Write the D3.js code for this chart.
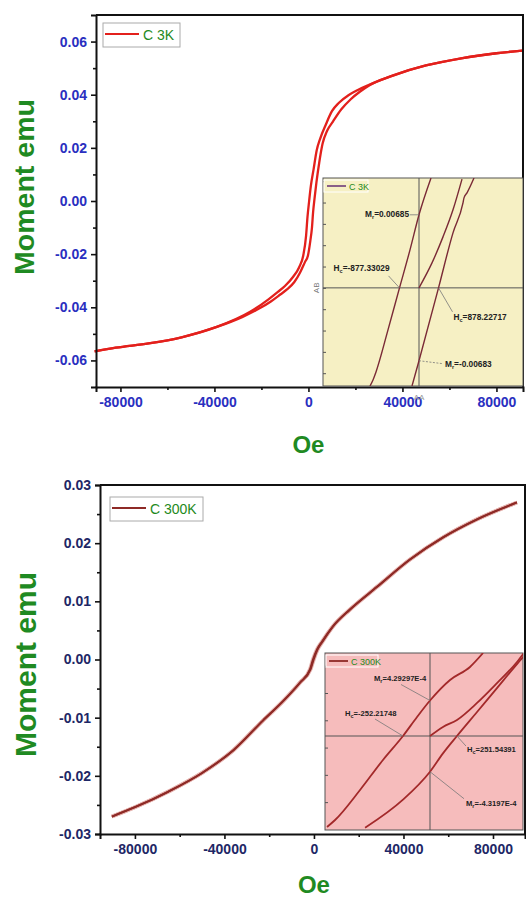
<!DOCTYPE html>
<html>
<head>
<meta charset="utf-8">
<script src="https://cdn.jsdelivr.net/npm/d3@7/dist/d3.min.js"></script>
<style>
  body { margin: 0; background: #fff; }
  svg { display: block; }
  text { font-family: "Liberation Sans", Arial, sans-serif; }
</style>
</head>
<body>
<svg id="chart" width="526" height="897"></svg>
<script>
// ---------- C 3K : M(H) loop, full field range ----------
const fieldDesc3K  = [91000, 80000, 65000, 50000, 36000, 26000, 21000, 17000, 13000, 10000, 7500, 5000, 3500, 2200, 1000, 300, -400, -1000, -2200, -4000, -6500, -10000, -13000, -17000, -25000, -39000, -54000, -68000, -82000, -91000];
const momentDesc3K = [0.0566, 0.0556, 0.0537, 0.0510, 0.0473, 0.0438, 0.0418, 0.0398, 0.0370, 0.0338, 0.0290, 0.0235, 0.0190, 0.0120, 0.0055, 0.0000, -0.0060, -0.0130, -0.0205, -0.0250, -0.0285, -0.0320, -0.0342, -0.0370, -0.0418, -0.0474, -0.0513, -0.0536, -0.0552, -0.0566];
const fieldAsc3K   = [-91000, -82000, -68000, -54000, -39000, -28000, -21000, -16000, -12000, -9000, -6000, -3600, -1500, -200, 800, 1500, 2000, 2600, 3400, 4600, 6000, 8000, 10500, 14000, 18000, 22000, 26000, 36000, 50000, 65000, 80000, 91000];
const momentAsc3K  = [-0.0566, -0.0552, -0.0536, -0.0513, -0.0474, -0.0436, -0.0405, -0.0378, -0.0352, -0.0332, -0.0305, -0.0270, -0.0230, -0.0205, -0.0150, -0.0100, -0.0040, 0.0010, 0.0070, 0.0145, 0.0215, 0.0265, 0.0300, 0.0345, 0.0383, 0.0412, 0.0436, 0.0472, 0.0510, 0.0537, 0.0556, 0.0566];

// ---------- C 3K : low-field detail ----------
const insetFieldDesc3K   = [-2205, -2070, -1935, -1395, -877.33029, -405, 0, 540];
const insetMomentDesc3K  = [-0.0092, -0.00863, -0.00788, -0.00394, 0, 0.00356, 0.00685, 0.0103];
const insetFieldAsc3K    = [-315, 0, 878.22717, 1530, 1980, 2025, 2160, 2475];
const insetMomentAsc3K   = [-0.0092, -0.00683, 0, 0.00516, 0.00797, 0.00844, 0.00891, 0.0103];
const insetFieldVirgin3K  = [0, 585, 1080, 1530, 1935];
const insetMomentVirgin3K = [0, 0.00234, 0.00478, 0.00732, 0.0102];
const coercive3K  = [-877.33029, 878.22717];
const remanent3K  = [0.00685, -0.00683];

// ---------- C 300K : M(H) loop, full field range ----------
const fieldDesc300K  = [90700, 72900, 57700, 42900, 28200, 16100, 8500, 3600, 1300, -450, -1800, -6300, -13900, -22800, -36000, -50000, -65000, -80000, -90300];
const momentDesc300K = [0.0270, 0.0241, 0.0210, 0.0172, 0.0125, 0.0086, 0.0057, 0.0031, 0.0017, 0.0000, -0.0017, -0.0040, -0.0072, -0.0105, -0.0156, -0.0195, -0.0227, -0.0254, -0.0270];
const fieldAsc300K   = [-90300, -80000, -65000, -50000, -36000, -22800, -13900, -6300, -1500, -100, 1600, 3900, 8500, 16100, 28200, 42900, 57700, 72900, 90700];
const momentAsc300K  = [-0.0270, -0.0254, -0.0227, -0.0195, -0.0156, -0.0105, -0.0072, -0.0040, -0.0017, 0.0000, 0.0017, 0.0031, 0.0057, 0.0086, 0.0125, 0.0172, 0.0210, 0.0241, 0.0270];

// ---------- C 300K : low-field detail ----------
const insetFieldDesc300K    = [-961, -886, -653, -439, -252.21748, -121, 0, 187, 373, 495];
const insetMomentDesc300K   = [-0.0011, -0.001016, -0.000653, -0.00029, 0, 0.00023, 0.000429297, 0.000678, 0.000835, 0.001004];
const insetFieldAsc300K     = [-606, -252, 0, 121, 251.54391, 439, 625, 812, 880];
const insetMomentAsc300K    = [-0.00111, -0.00077, -0.00043197, -0.00021, 0, 0.00029, 0.00058, 0.00087, 0.00097];
const insetFieldVirgin300K  = [0, 121, 252, 439, 625, 812, 880];
const insetMomentVirgin300K = [0, 0.00011, 0.000194, 0.0004, 0.00064, 0.000895, 0.00101];
const coercive300K = [-252.21748, 251.54391];
const remanent300K = [0.000429297, -0.00043197];

// ---------- ticks and labels ----------
const xTicks = [-80000, -40000, 0, 40000, 80000];
const xMinorTicks = [-60000, -20000, 20000, 60000];
const yTicks3K = [-0.06, -0.04, -0.02, 0.00, 0.02, 0.04, 0.06];
const yMinorTicks3K = [-0.05, -0.03, -0.01, 0.01, 0.03, 0.05];
const yTicks300K = [-0.03, -0.02, -0.01, 0.00, 0.01, 0.02, 0.03];
const yMinorTicks300K = [-0.025, -0.015, -0.005, 0.005, 0.015, 0.025];
const seriesNames = ["C 3K", "C 300K"];
const yTitle = "Moment emu";
const xTitle = "Oe";

const svg = d3.select("#chart");
const green = "#1f8a22";

// pairs sorted by field so a monotone-in-x curve can be used
const zip = (xs, ys) => xs.map((x, i) => [x, ys[i]]).sort((a, b) => a[0] - b[0]);
const fmtY = d => d.toFixed(2);
const fmtX = d => String(d);

function mainPanel(o) {
  const g = svg.append("g");
  const x = d3.scaleLinear().domain(o.xDomain).range([o.left, o.right]);
  const y = d3.scaleLinear().domain(o.yDomain).range([o.bottom, o.top]);

  const line = d3.line().x(d => x(d[0])).y(d => y(d[1])).curve(d3.curveMonotoneX);
  o.branches.forEach(b => {
    if (o.halo) {
      g.append("path").attr("d", line(b)).attr("fill", "none")
        .attr("stroke", o.halo).attr("stroke-width", o.width + 2).attr("stroke-linejoin", "round");
    }
  });
  o.branches.forEach(b => {
    g.append("path").attr("d", line(b)).attr("fill", "none")
      .attr("stroke", o.color).attr("stroke-width", o.width).attr("stroke-linejoin", "round");
  });

  // frame
  g.append("path").attr("d", `M${o.left},${o.top}H${o.right}V${o.bottom}`)
    .attr("fill", "none").attr("stroke", "#111").attr("stroke-width", 2);

  // axes
  const ax = g.append("g").attr("transform", `translate(0,${o.bottom})`)
    .call(d3.axisBottom(x).tickValues(xTicks).tickFormat(fmtX).tickSize(5).tickPadding(5));
  g.append("g").attr("transform", `translate(0,${o.bottom})`)
    .call(d3.axisBottom(x).tickValues(xMinorTicks).tickFormat("").tickSize(3))
    .call(s => s.select(".domain").remove());
  const ay = g.append("g").attr("transform", `translate(${o.left},0)`)
    .call(d3.axisLeft(y).tickValues(o.yTicks).tickFormat(fmtY).tickSize(5).tickPadding(4));
  g.append("g").attr("transform", `translate(${o.left},0)`)
    .call(d3.axisLeft(y).tickValues(o.yMinor).tickFormat("").tickSize(3))
    .call(s => s.select(".domain").remove());
  g.selectAll(".domain").attr("stroke", "#111").attr("stroke-width", 2);
  g.selectAll(".tick line").attr("stroke", "#111").attr("stroke-width", 1.6);
  [ax, ay].forEach(a => a.selectAll("text")
    .attr("fill", o.tickColor).attr("font-size", 14).attr("font-weight", "bold")
    .attr("font-family", "'Liberation Sans', Arial, sans-serif"));

  // titles
  g.append("text").attr("transform", `translate(${o.yTitleX},${(o.top + o.bottom) / 2 + o.yTitleShift}) rotate(-90)`)
    .attr("text-anchor", "middle").attr("font-size", o.yTitleSize).attr("font-weight", "bold")
    .attr("fill", green).text(yTitle);
  g.append("text").attr("x", x(0)).attr("y", o.xTitleY).attr("text-anchor", "middle")
    .attr("font-size", 24).attr("font-weight", "bold").attr("fill", green).text(xTitle);

  // legend
  const lg = g.append("g").attr("transform", `translate(${o.legend[0]},${o.legend[1]})`);
  lg.append("rect").attr("width", o.legend[2]).attr("height", 24).attr("fill", "#fff")
    .attr("stroke", "#aaa").attr("stroke-width", 1);
  lg.append("line").attr("x1", 2).attr("x2", 36).attr("y1", 11).attr("y2", 11)
    .attr("stroke", o.color).attr("stroke-width", 2);
  lg.append("text").attr("x", 40).attr("y", 17).attr("font-size", 14).attr("fill", green).text(o.name);
  return { g, x, y };
}

function insetPanel(o) {
  const g = svg.append("g");
  const x = d3.scaleLinear().domain(o.xDomain).range([o.left, o.right]);
  const y = d3.scaleLinear().domain(o.yDomain).range([o.bottom, o.top]);
  const clipId = "clip" + o.id;
  g.append("clipPath").attr("id", clipId).append("rect")
    .attr("x", o.left).attr("y", o.top).attr("width", o.right - o.left).attr("height", o.bottom - o.top);
  g.append("rect").attr("x", o.left).attr("y", o.top).attr("width", o.right - o.left)
    .attr("height", o.bottom - o.top).attr("fill", o.bg).attr("stroke", "#555").attr("stroke-width", 1);

  // small ticks along the left edge
  g.append("g").attr("transform", `translate(${o.left},0)`)
    .call(d3.axisRight(y).tickValues(d3.range(o.yTickStart, o.yDomain[1], o.yTickStep)).tickFormat("").tickSize(3))
    .call(s => s.select(".domain").remove())
    .selectAll("line").attr("stroke", "#555");

  // cross-hair through the origin
  g.append("line").attr("x1", x(0)).attr("x2", x(0)).attr("y1", o.top).attr("y2", o.bottom)
    .attr("stroke", "#555").attr("stroke-width", 1);
  g.append("line").attr("x1", o.left).attr("x2", o.right).attr("y1", y(0)).attr("y2", y(0))
    .attr("stroke", "#555").attr("stroke-width", 1);

  const line = d3.line().x(d => x(d[0])).y(d => y(d[1])).curve(d3.curveMonotoneX);
  const cg = g.append("g").attr("clip-path", `url(#${clipId})`);
  o.branches.forEach(b => cg.append("path").attr("d", line(b)).attr("fill", "none")
    .attr("stroke", o.color).attr("stroke-width", o.width));

  // legend
  const lg = g.append("g").attr("transform", `translate(${o.left + 1},${o.top + 2})`);
  lg.append("rect").attr("width", o.legendW).attr("height", 12).attr("fill", o.legendBg)
    .attr("stroke", "#fff").attr("stroke-width", 1);
  lg.append("line").attr("x1", 3).attr("x2", 22).attr("y1", 6).attr("y2", 6)
    .attr("stroke", o.legendLine).attr("stroke-width", 1.8);
  lg.append("text").attr("x", 25).attr("y", 9.5).attr("font-size", 9).attr("fill", green).text(o.name);

  // annotations: label + leader to the point it describes
  o.notes.forEach(n => {
    const px = x(n.h), py = y(n.m);
    g.append("line").attr("x1", px).attr("y1", py).attr("x2", px + n.dx).attr("y2", py + n.dy)
      .attr("stroke", "#777").attr("stroke-width", 0.8)
      .attr("stroke-dasharray", n.dash ? "2,1.5" : null);
    const t = g.append("text").attr("x", px + n.tx).attr("y", py + n.ty)
      .attr("text-anchor", n.anchor).attr("font-size", o.noteSize).attr("font-weight", "bold").attr("fill", "#222");
    t.append("tspan").text(n.sym);
    t.append("tspan").attr("font-size", 5.5).attr("dy", 2).text(n.sub);
    t.append("tspan").attr("dy", -2).text("=" + n.text);
  });
  return { g, x, y };
}

// ===== C 3K =====
mainPanel({
  left: 96, right: 523, top: 15, bottom: 387,
  xDomain: [-90400, 91300], yDomain: [-0.07, 0.07],
  yTicks: yTicks3K, yMinor: yMinorTicks3K,
  branches: [zip(fieldDesc3K, momentDesc3K), zip(fieldAsc3K, momentAsc3K)],
  color: "#e3201c", width: 2.3, halo: null,
  tickColor: "#2a2fc0", yTitleX: 34, yTitleShift: -14, yTitleSize: 28.5, xTitleY: 453,
  legend: [103, 23, 77], name: seriesNames[0]
});
const in3 = insetPanel({
  id: "3K", left: 323, right: 523, top: 178, bottom: 386,
  xDomain: [-4320, 4680], yDomain: [-0.0092, 0.0103],
  yTickStart: -0.008, yTickStep: 0.002,
  branches: [zip(insetFieldDesc3K, insetMomentDesc3K), zip(insetFieldAsc3K, insetMomentAsc3K),
             zip(insetFieldVirgin3K, insetMomentVirgin3K)],
  color: "#7a2a36", width: 1.4, bg: "#f6f0c4", noteSize: 8.3,
  legendW: 44, legendBg: "#f6f0c4", legendLine: "#7d4f82", name: seriesNames[0],
  notes: [
    { h: 0, m: remanent3K[0], sym: "M", sub: "r", text: String(remanent3K[0]), dx: -9, dy: 0, tx: -10, ty: 2, anchor: "end" },
    { h: coercive3K[0], m: 0, sym: "H", sub: "c", text: String(coercive3K[0]), dx: -11, dy: -12, tx: -10, ty: -17, anchor: "end" },
    { h: coercive3K[1], m: 0, sym: "H", sub: "c", text: String(coercive3K[1]), dx: 14, dy: 24, tx: 15, ty: 32, anchor: "start" },
    { h: 0, m: remanent3K[1], sym: "M", sub: "r", text: String(remanent3K[1]), dx: 24, dy: 3, tx: 26, ty: 6, anchor: "start", dash: true }
  ]
});
in3.g.append("text").attr("transform", `translate(${in3.x(-4320) - 4},${in3.y(0)}) rotate(-90)`)
  .attr("text-anchor", "middle").attr("font-size", 8).attr("fill", "#777").text("AB");
in3.g.append("text").attr("x", in3.x(0)).attr("y", 400).attr("text-anchor", "middle")
  .attr("font-size", 8).attr("fill", "#999").text("AA");

// ===== C 300K =====
mainPanel({
  left: 100, right: 525, top: 485, bottom: 834,
  xDomain: [-95600, 94300], yDomain: [-0.03, 0.03],
  yTicks: yTicks300K, yMinor: yMinorTicks300K,
  branches: [zip(fieldDesc300K, momentDesc300K), zip(fieldAsc300K, momentAsc300K)],
  color: "#8e2a26", width: 1.9, halo: "#e6b4b0",
  tickColor: "#1e2766", yTitleX: 36, yTitleShift: 5, yTitleSize: 30, xTitleY: 893,
  legend: [110, 497, 93], name: seriesNames[1]
});
insetPanel({
  id: "300K", left: 325, right: 523, top: 653, bottom: 830,
  xDomain: [-980, 868], yDomain: [-0.001137, 0.001004],
  yTickStart: -0.0008, yTickStep: 0.00033,
  branches: [zip(insetFieldDesc300K, insetMomentDesc300K), zip(insetFieldAsc300K, insetMomentAsc300K),
             zip(insetFieldVirgin300K, insetMomentVirgin300K)],
  color: "#a3292a", width: 1.8, bg: "#f6bcbc", noteSize: 7.6,
  legendW: 52, legendBg: "#f6bcbc", legendLine: "#8e2a26", name: seriesNames[1],
  notes: [
    { h: 0, m: remanent300K[0], sym: "M", sub: "r", text: "4.29297E-4", dx: -29, dy: -16, tx: -56, ty: -20, anchor: "start" },
    { h: coercive300K[0], m: 0, sym: "H", sub: "c", text: String(coercive300K[0]), dx: -28, dy: -17, tx: -58, ty: -20, anchor: "start" },
    { h: coercive300K[1], m: 0, sym: "H", sub: "c", text: String(coercive300K[1]), dx: 9, dy: 10, tx: 10, ty: 16, anchor: "start" },
    { h: 0, m: remanent300K[1], sym: "M", sub: "r", text: "-4.3197E-4", dx: 34, dy: 27, tx: 36, ty: 34, anchor: "start" }
  ]
});
</script>
</body>
</html>
